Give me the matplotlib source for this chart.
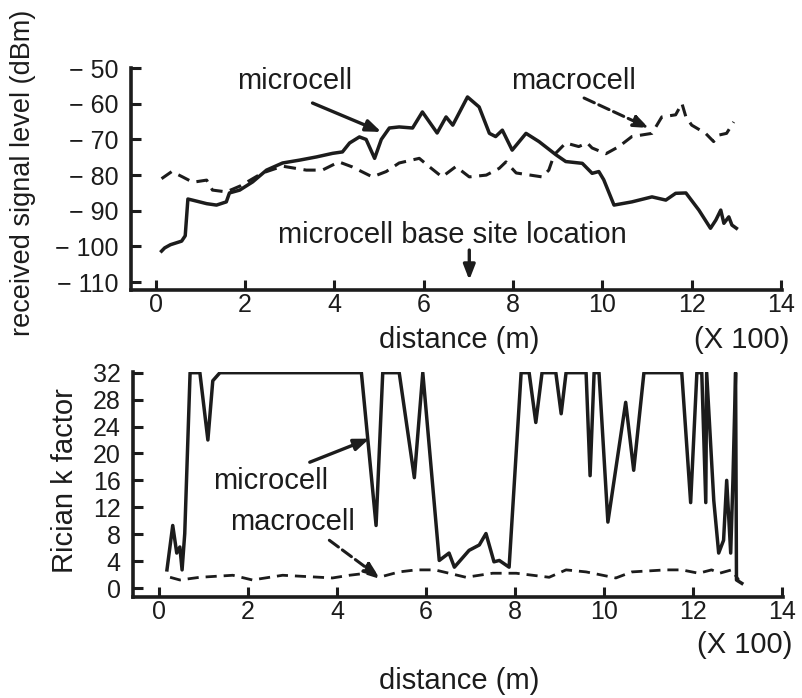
import numpy as np
import matplotlib
matplotlib.use('Agg')
import matplotlib.pyplot as plt

plt.rcParams['font.family'] = ['Liberation Sans', 'DejaVu Sans']

INK = '#1c1c1c'

# received signal level, microcell (solid)
sig_micro_x = [0.13, 0.2, 0.33, 0.58, 0.66, 0.72, 0.82, 1.14, 1.36, 1.58, 1.65, 1.88, 2.17,
               2.48, 2.84, 3.22, 3.6, 3.96, 4.18, 4.34, 4.56, 4.71, 4.9, 5.05, 5.23, 5.45,
               5.75, 5.97, 6.3, 6.5, 6.65, 6.98, 7.24, 7.47, 7.61, 7.76, 7.98, 8.29, 8.58,
               8.96, 9.18, 9.55, 9.77, 9.92, 10.03, 10.26, 10.66, 11.11, 11.42, 11.64, 11.87,
               12.16, 12.42, 12.54, 12.65, 12.72, 12.83, 12.9, 13.0]
sig_micro_y = [-101.3, -100.4, -99.5, -98.5, -97.0, -86.7, -87.0, -88.0, -88.4, -87.5, -85.0,
               -84.2, -81.9, -78.6, -76.6, -75.8, -74.9, -73.9, -73.5, -71.0, -69.3, -70.0,
               -75.3, -70.0, -66.8, -66.5, -66.8, -62.3, -68.2, -63.7, -66.0, -58.1, -60.9,
               -68.3, -69.2, -67.4, -73.0, -68.3, -70.6, -74.3, -76.2, -76.7, -79.5, -79.0,
               -81.3, -88.4, -87.5, -86.1, -87.0, -85.1, -85.0, -89.8, -94.9, -92.6, -89.8,
               -93.5, -91.7, -94.0, -94.9]

# received signal level, macrocell (dashed)
sig_macro_x = [0.13, 0.36, 0.6, 0.83, 1.14, 1.27, 1.58, 1.9, 2.39, 2.84, 3.37, 3.73, 4.1, 4.4,
               4.85, 5.16, 5.45, 5.9, 6.12, 6.41, 6.72, 7.02, 7.4, 7.69, 7.84, 8.07, 8.65,
               8.8, 8.92, 9.18, 9.47, 9.66, 9.77, 10.08, 10.37, 10.66, 11.11, 11.33, 11.64,
               11.78, 11.87, 12.0, 12.31, 12.49, 12.6, 12.78, 12.94]
sig_macro_y = [-81.0, -79.0, -80.5, -82.0, -81.4, -84.2, -84.7, -83.0, -79.4, -77.5, -78.6,
               -78.6, -76.3, -77.7, -80.5, -79.0, -76.6, -75.3, -77.6, -80.5, -77.6, -80.5,
               -80.0, -78.1, -76.3, -79.4, -80.5, -78.6, -74.3, -71.0, -72.0, -71.0, -72.4,
               -74.0, -72.0, -69.2, -68.3, -63.7, -63.1, -59.9, -63.7, -66.0, -68.3, -70.6,
               -68.8, -68.3, -65.1]

# Rician k factor, microcell (solid)
k_micro_x = [0.18, 0.31, 0.4, 0.47, 0.52, 0.58, 0.7, 0.92, 1.1, 1.21, 1.37, 4.55, 4.88, 5.03,
             5.4, 5.74, 5.93, 6.3, 6.52, 6.64, 6.97, 7.2, 7.35, 7.53, 7.65, 7.87, 8.14, 8.32,
             8.47, 8.61, 8.92, 9.04, 9.15, 9.6, 9.69, 9.78, 9.89, 10.09, 10.49, 10.67, 10.9,
             11.75, 11.95, 12.09, 12.2, 12.29, 12.31, 12.47, 12.58, 12.69, 12.76, 12.85,
             12.9, 12.96, 12.98, 13.1]
k_micro_y = [2.7, 9.3, 5.2, 6.1, 2.7, 8.1, 32, 32, 22, 30.8, 32, 32, 9.3, 32, 32, 16.4, 32,
             4.1, 5.2, 3.1, 5.6, 6.4, 8.1, 3.9, 4.1, 3.1, 32, 32, 24.6, 32, 32, 25.9, 32, 32,
             16.7, 32, 32, 9.8, 27.6, 17.5, 32, 32, 12.7, 32, 32, 12.7, 32, 13.0, 5.2, 7.1,
             16.0, 5.2, 16.0, 32, 1.2, 0.7]

# Rician k factor, macrocell (dashed)
k_macro_x = [0.25, 0.47, 0.92, 1.66, 2.1, 2.78, 3.9, 4.28, 4.66, 4.95, 5.4, 5.78, 6.2, 6.52,
             6.9, 7.5, 8.03, 8.77, 9.15, 9.6, 10.27, 10.63, 11.39, 11.75, 12.13, 12.42, 12.6,
             12.87, 13.03]
k_macro_y = [1.6, 1.2, 1.6, 1.9, 1.2, 1.9, 1.5, 1.9, 2.2, 1.6, 2.4, 2.7, 2.7, 2.2, 1.6, 2.2,
             2.2, 1.6, 2.7, 2.4, 1.5, 2.4, 2.7, 2.7, 2.2, 2.7, 2.2, 2.7, 1.2]

sig_ticks = [-50, -60, -70, -80, -90, -100, -110]
k_ticks = [0, 4, 8, 12, 16, 20, 24, 28, 32]
x_ticks = [0, 2, 4, 6, 8, 10, 12, 14]

TXT = 21    # label / annotation size
TICK = 18   # tick label size

fig = plt.figure(figsize=(8.02, 6.98), dpi=100)
ax1 = fig.add_axes([0.163, 0.5845, 0.812, 0.318])
ax2 = fig.add_axes([0.166, 0.1447, 0.81, 0.3223])

dash = (0, (4, 2.5))

ax1.plot(sig_micro_x, sig_micro_y, color=INK, lw=2.5)
ax1.plot(sig_macro_x, sig_macro_y, color=INK, lw=2.2, linestyle=dash)
ax1.set_xlim(-0.56, 14.02)
ax1.set_ylim(-112.2, -50)
ax1.set_yticks(sig_ticks)
ax1.set_yticklabels(['\u2212 ' + str(-t) for t in sig_ticks])

ax2.plot(k_micro_x, k_micro_y, color=INK, lw=2.5)
ax2.plot(k_macro_x, k_macro_y, color=INK, lw=2.0, linestyle=dash)
ax2.set_xlim(-0.58, 14.02)
ax2.set_ylim(-1.33, 32.1)
ax2.set_yticks(k_ticks)

for ax in (ax1, ax2):
    ax.set_xticks(x_ticks)
    for s in ('top', 'right'):
        ax.spines[s].set_visible(False)
    for s in ('left', 'bottom'):
        ax.spines[s].set_linewidth(2.6)
        ax.spines[s].set_color(INK)
    ax.tick_params(direction='in', length=7, width=2.2, colors=INK, labelsize=TICK)
    ax.tick_params(axis='x', pad=2)
    ax.tick_params(axis='y', pad=9)

# axis labels
fig.text(0.029, 0.752, 'received signal level (dBm)', rotation=90, ha='center', va='center',
         fontsize=19.5, color=INK)
fig.text(0.081, 0.312, 'Rician k factor', rotation=90, ha='center', va='center',
         fontsize=TXT, color=INK)
fig.text(0.572, 0.513, 'distance (m)', ha='center', va='center', fontsize=TXT, color=INK)
fig.text(0.925, 0.513, '(X 100)', ha='center', va='center', fontsize=TXT, color=INK)
fig.text(0.572, 0.024, 'distance (m)', ha='center', va='center', fontsize=TXT, color=INK)
fig.text(0.928, 0.076, '(X 100)', ha='center', va='center', fontsize=TXT, color=INK)

# annotations, top panel
solid_arrow = dict(arrowstyle='-|>,head_length=0.9,head_width=0.35', color=INK, lw=2.4,
                   shrinkA=0, shrinkB=0)
dashed_arrow = dict(arrowstyle='-|>,head_length=0.9,head_width=0.35', color=INK, lw=2.2,
                    linestyle='--', shrinkA=0, shrinkB=0)
ax1.text(3.1, -53.5, 'microcell', ha='center', va='center', fontsize=TXT, color=INK)
ax1.annotate('', xy=(5.05, -67.9), xytext=(3.51, -59.8), arrowprops=solid_arrow)
ax1.text(9.35, -53.5, 'macrocell', ha='center', va='center', fontsize=TXT, color=INK)
ax1.annotate('', xy=(11.04, -66.8), xytext=(9.59, -58.4), arrowprops=dashed_arrow)
ax1.text(6.64, -96.8, 'microcell base site location', ha='center', va='center',
         fontsize=TXT, color=INK)
ax1.annotate('', xy=(7.02, -109.4), xytext=(7.02, -101.0), arrowprops=solid_arrow)

# annotations, bottom panel
ax2.text(2.51, 15.9, 'microcell', ha='center', va='center', fontsize=TXT, color=INK)
ax2.annotate('', xy=(4.73, 22.2), xytext=(3.39, 18.7), arrowprops=solid_arrow)
ax2.text(3.0, 9.8, 'macrocell', ha='center', va='center', fontsize=TXT, color=INK)
ax2.annotate('', xy=(4.95, 1.6), xytext=(3.83, 7.1), arrowprops=dashed_arrow)

fig.savefig('out.png', dpi=100, facecolor='white')
